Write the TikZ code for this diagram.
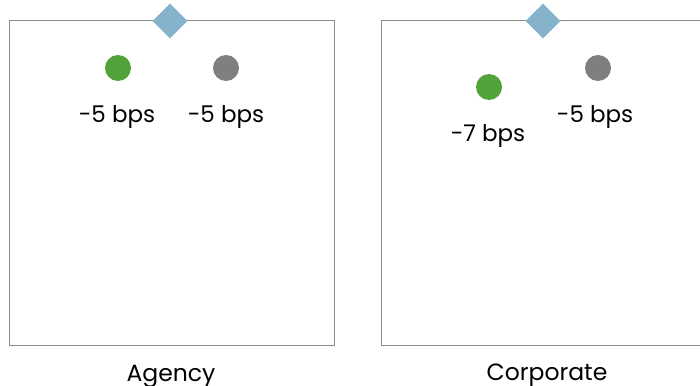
\documentclass[tikz,border=0pt]{standalone}
\usepackage{fontspec}
\setmainfont{Poppins}
\usetikzlibrary{shapes.geometric}
\definecolor{framegray}{HTML}{8C8C8C}
\definecolor{dotgreen}{HTML}{52A23A}
\definecolor{dotgray}{HTML}{7F7F7F}
\definecolor{markblue}{HTML}{84B3CB}
\tikzset{
  x=1pt, y=-1pt,
  panel/.style={draw=framegray, line width=1.5pt},
  marker/.style={diamond, fill=markblue, inner sep=0pt, minimum width=35pt, minimum height=35pt},
  dotg/.style={circle, fill=dotgreen, inner sep=0pt, minimum size=26pt},
  dotk/.style={circle, fill=dotgray, inner sep=0pt, minimum size=26pt},
  val/.style={anchor=base, inner sep=0pt, font=\fontsize{23}{26}\selectfont},
  paneltitle/.style={anchor=base, inner sep=0pt, font=\fontsize{23.5}{26}\selectfont}
}
\begin{document}
\begin{tikzpicture}
\useasboundingbox (0,0) rectangle (700,385);
% panels
\draw[panel] (9.5,20.5) rectangle (334.5,345.5);
\draw[panel] (381.5,20.5) rectangle (702,345.5);
% top markers
\node[marker] (ma) at (170,21) {};
\node[marker] (mc) at (543,21) {};
% Agency values
\node[dotg] (ag) at (118,68) {};
\node[dotk] (ak) at (226,68) {};
\node[val] (agl) at (117,122) {-5 bps};
\node[val] (akl) at (226,122) {-5 bps};
% Corporate values
\node[dotg] (cg) at (489,87) {};
\node[dotk] (ck) at (598,68) {};
\node[val] (cgl) at (488,141) {-7 bps};
\node[val] (ckl) at (595,122) {-5 bps};
% captions
\node[paneltitle] (ta) at (171,381) {Agency};
\node[paneltitle] (tc) at (547,380) {Corporate};
\end{tikzpicture}
\end{document}
